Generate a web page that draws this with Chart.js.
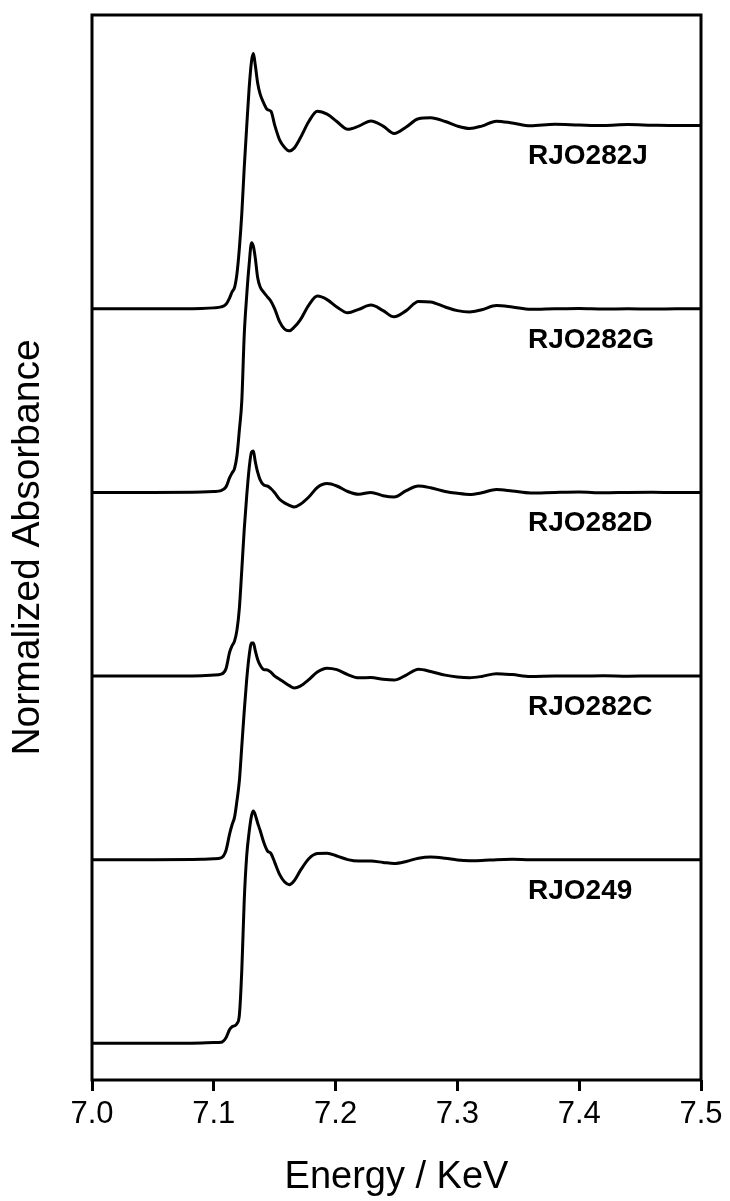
<!DOCTYPE html>
<html>
<head>
<meta charset="utf-8">
<script src="https://cdn.jsdelivr.net/npm/chart.js@4.4.1/dist/chart.umd.min.js"></script>
<style>
  body { margin: 0; background: #fff; }
  canvas { display: block; }
</style>
</head>
<body>
<canvas id="xanesChart" width="730" height="1201"></canvas>
<script>
//Energy grid (keV) shared by every spectrum
const energies = [7.000, 7.050, 7.090, 7.100, 7.106, 7.110, 7.113, 7.115, 7.117, 7.119,
  7.121, 7.123, 7.125, 7.127, 7.129, 7.131, 7.1325, 7.134, 7.136, 7.138,
  7.141, 7.144, 7.147, 7.150, 7.154, 7.158, 7.162, 7.166, 7.171, 7.178,
  7.185, 7.193, 7.201, 7.210, 7.219, 7.229, 7.239, 7.248, 7.258, 7.268,
  7.278, 7.290, 7.300, 7.310, 7.320, 7.332, 7.345, 7.360, 7.380, 7.400,
  7.420, 7.440, 7.460, 7.480, 7.500];

//Normalized absorbance of each sample (edge step = 1)
const muRJO249 = [0, 0, 0.002, 0.004, 0.005, 0.03, 0.075, 0.09, 0.095, 0.107,
  0.155, 0.4, 0.78, 1.02, 1.15, 1.24, 1.265, 1.245, 1.2, 1.16,
  1.095, 1.048, 1.033, 0.985, 0.92, 0.88, 0.864, 0.885, 0.94, 1.005,
  1.033, 1.035, 1.02, 1.0, 0.992, 0.992, 0.985, 0.979, 0.99, 1.008,
  1.015, 1.008, 0.998, 0.994, 0.995, 1.0, 1.002, 1.0, 1.0, 1.0,
  1.0, 1.0, 1.0, 1.0, 1.0];
const muRJO282C = [0, 0, 0.002, 0.005, 0.01, 0.05, 0.14, 0.19, 0.23, 0.32,
  0.43, 0.62, 0.81, 0.98, 1.11, 1.18, 1.18, 1.14, 1.09, 1.06,
  1.035, 1.033, 1.02, 1.0, 0.983, 0.965, 0.948, 0.935, 0.945, 0.98,
  1.022, 1.043, 1.035, 1.008, 0.99, 0.992, 0.982, 0.978, 1.005, 1.037,
  1.025, 1.005, 0.995, 0.991, 0.998, 1.013, 1.008, 0.998, 1.0, 1.0,
  1.001, 0.999, 1.0, 1.0, 1.0];
const muRJO282D = [0, 0, 0.002, 0.005, 0.01, 0.04, 0.13, 0.165, 0.19, 0.25,
  0.37, 0.58, 0.8, 0.98, 1.13, 1.22, 1.225, 1.17, 1.11, 1.07,
  1.04, 1.035, 1.02, 0.998, 0.963, 0.943, 0.93, 0.92, 0.935, 0.975,
  1.027, 1.048, 1.035, 1.005, 0.99, 1.0, 0.982, 0.975, 1.01, 1.035,
  1.025, 1.005, 0.995, 0.989, 0.998, 1.016, 1.008, 0.997, 1.0, 1.002,
  0.998, 1.0, 1.001, 0.999, 1.0];
const muRJO282G = [0, 0, 0.002, 0.005, 0.01, 0.03, 0.08, 0.106, 0.13, 0.2,
  0.34, 0.5, 0.86, 1.07, 1.24, 1.36, 1.34, 1.28, 1.17, 1.12,
  1.09, 1.065, 1.04, 1.0, 0.93, 0.89, 0.88, 0.9, 0.94, 1.02,
  1.069, 1.05, 1.01, 0.978, 0.997, 1.02, 0.99, 0.956, 0.99, 1.04,
  1.037, 1.01, 0.99, 0.983, 0.995, 1.018, 1.01, 0.997, 1.0, 1.002,
  0.999, 1.0, 0.999, 1.0, 1.0];
const muRJO282J = [0, 0, 0.002, 0.005, 0.01, 0.025, 0.06, 0.092, 0.115, 0.19,
  0.33, 0.52, 0.77, 0.99, 1.2, 1.35, 1.39, 1.33, 1.23, 1.17,
  1.12, 1.085, 1.075, 1.0, 0.92, 0.88, 0.86, 0.875, 0.93, 1.02,
  1.076, 1.06, 1.02, 0.978, 0.995, 1.023, 0.995, 0.955, 0.99, 1.035,
  1.04, 1.02, 0.995, 0.982, 0.995, 1.022, 1.012, 0.997, 1.005, 1.001,
  0.998, 1.003, 1.0, 0.998, 0.998];

//Sample names, bottom to top, and their vertical offsets
const sampleNames = ['RJO249', 'RJO282C', 'RJO282D', 'RJO282G', 'RJO282J'];
const sampleValues = [muRJO249, muRJO282C, muRJO282D, muRJO282G, muRJO282J];
const sampleOffsets = [0, 1, 2, 3, 4];

//Axis ticks
const xTicks = [7.0, 7.1, 7.2, 7.3, 7.4, 7.5];

//Where the sample names sit (energy, distance below the plateau)
const labelEnergy = 7.358;
const labelDrop = 0.17;

const fontFamily = '"Liberation Sans", Arial, Helvetica, sans-serif';

//Names written under each spectrum
const sampleLabels = {
    id: 'sampleLabels',
    afterDatasetsDraw(chart) {
        const { ctx, scales: { x, y } } = chart;
        ctx.save();
        ctx.font = 'bold 28px ' + fontFamily;
        ctx.fillStyle = '#000';
        ctx.textAlign = 'left';
        ctx.textBaseline = 'middle';
        sampleNames.forEach((name, i) => {
            ctx.fillText(name, x.getPixelForValue(labelEnergy), y.getPixelForValue(sampleOffsets[i] + 1 - labelDrop));
        });
        ctx.restore();
    }
};

//Box round the plot area
const plotFrame = {
    id: 'plotFrame',
    afterDraw(chart) {
        const { ctx, chartArea: a } = chart;
        ctx.save();
        ctx.strokeStyle = '#000';
        ctx.lineWidth = 3;
        ctx.strokeRect(a.left, a.top, a.right - a.left, a.bottom - a.top);
        ctx.restore();
    }
};

const datasets = sampleNames.map((name, i) => ({
    label: name,
    data: energies.map((e, j) => ({ x: e, y: sampleValues[i][j] + sampleOffsets[i] })),
    borderColor: '#000',
    borderWidth: 3,
    pointRadius: 0,
    fill: false,
    cubicInterpolationMode: 'monotone'
}));

const ctx = document.getElementById('xanesChart').getContext('2d');
new Chart(ctx, {
    type: 'line',
    data: { datasets: datasets },
    plugins: [sampleLabels, plotFrame],
    options: {
        responsive: false,
        animation: false,
        devicePixelRatio: 1,
        layout: { padding: { top: 15, right: 29, left: 0, bottom: 0 } },
        plugins: { legend: { display: false }, tooltip: { enabled: false } },
        scales: {
            x: {
                type: 'linear',
                min: 7.0,
                max: 7.5,
                afterBuildTicks: s => { s.ticks = xTicks.map(v => ({ value: v })); },
                afterFit: s => { s.height = 121; },
                border: { display: false },
                grid: { drawOnChartArea: false, drawTicks: true, tickLength: 11, color: '#000', lineWidth: 3 },
                ticks: {
                    color: '#000',
                    padding: 5,
                    maxRotation: 0,
                    font: { family: fontFamily, size: 31 },
                    callback: v => Number(v).toFixed(1)
                },
                title: {
                    display: true,
                    text: 'Energy / KeV',
                    color: '#000',
                    font: { family: fontFamily, size: 38, lineHeight: 1.2 },
                    padding: { top: 0, bottom: 1 }
                }
            },
            y: {
                type: 'linear',
                min: -0.2,
                max: 5.6,
                afterFit: s => { s.width = 92; },
                border: { display: false },
                grid: { display: false },
                ticks: { display: false },
                title: {
                    display: true,
                    text: 'Normalized Absorbance',
                    color: '#000',
                    font: { family: fontFamily, size: 39, lineHeight: 1.2 },
                    padding: { top: 5, bottom: 0 }
                }
            }
        }
    }
});
</script>
</body>
</html>
